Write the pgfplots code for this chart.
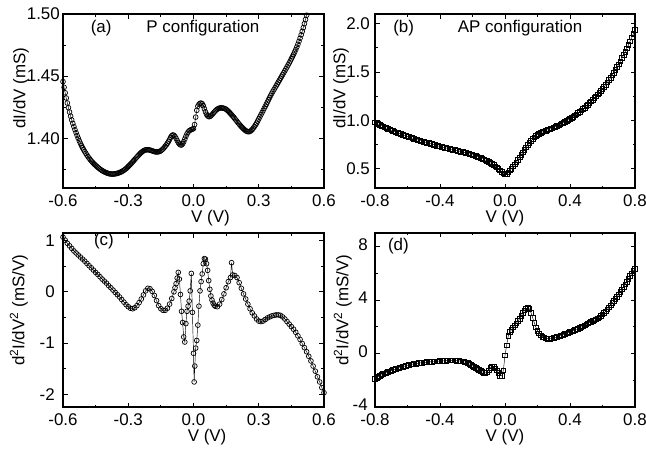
\documentclass[border=0pt]{standalone}
\usepackage{fontspec}
\setmainfont{Liberation Sans}
\usepackage{pgfplots}
\pgfplotsset{compat=1.18}
\tikzset{tag/.style={font=\fontsize{17}{20}\selectfont, inner sep=0pt}}
\pgfplotsset{
  panel/.style={
    scale only axis, width=261bp, height=174bp, anchor=south west,
    axis line style={line width=1.1bp},
    tick align=inside,
    major tick length=4.5bp, minor tick length=2.5bp,
    every tick/.style={black, line width=0.8bp},
    tick label style={font=\fontsize{17}{20}\selectfont, inner sep=0pt},
    xticklabel style={yshift=-6.5bp},
    yticklabel style={xshift=-5bp},
    clip=true,
  },
  xl/.style={every axis x label/.style={at={(axis description cs:#1,0)}, anchor=north, yshift=-22.5bp, inner sep=0pt, font=\fontsize{17}{20}\selectfont}},
  yl/.style 2 args={every axis y label/.style={at={(axis description cs:#1,#2)}, rotate=90, anchor=south, inner sep=0pt, font=\fontsize{17}{20}\selectfont}},
  ptsc/.style={black, line width=0.45bp, mark=o, mark size=2.4bp, mark options={line width=0.7bp}},
  ptss/.style={black, line width=0.45bp, mark=square, mark size=2.3bp, mark options={line width=0.7bp}},
}
\begin{document}
\begin{tikzpicture}
\useasboundingbox (0,0) rectangle (646bp,-450bp);
% ---------------- (a)
\begin{axis}[panel, at={(63bp,-188bp)},
  xmin=-0.6, xmax=0.6, ymin=1.36, ymax=1.50,
  xtick={-0.6,-0.3,0,0.3,0.6}, xticklabels={-0.6,-0.3,0.0,0.3,0.6},
  minor xtick={-0.45,-0.15,0.15,0.45},
  ytick={1.40,1.45,1.50}, yticklabels={1.40,1.45,1.50},
  minor ytick={1.375,1.425,1.475},
  yticklabel style={xshift=2bp},
  xlabel={V (V)}, ylabel={dI/dV (mS)},
  xl=0.565, yl={-0.13}{0.575},
]
\addplot[ptsc] coordinates {
(-0.600,1.4456)(-0.595,1.4410)(-0.590,1.4366)(-0.585,1.4324)(-0.580,1.4284)(-0.575,1.4246)(-0.570,1.4211)(-0.565,1.4178)(-0.560,1.4148)(-0.555,1.4120)(-0.550,1.4094)(-0.545,1.4069)(-0.540,1.4045)(-0.535,1.4022)(-0.530,1.4000)(-0.525,1.3979)(-0.520,1.3959)(-0.515,1.3941)(-0.510,1.3924)(-0.505,1.3908)(-0.500,1.3893)(-0.495,1.3879)(-0.490,1.3865)(-0.485,1.3852)(-0.480,1.3840)(-0.475,1.3829)(-0.470,1.3818)(-0.465,1.3808)(-0.460,1.3799)(-0.455,1.3790)(-0.450,1.3782)(-0.445,1.3774)(-0.440,1.3766)(-0.435,1.3759)(-0.430,1.3752)(-0.425,1.3746)(-0.420,1.3740)(-0.415,1.3735)(-0.410,1.3730)(-0.405,1.3726)(-0.400,1.3722)(-0.395,1.3719)(-0.390,1.3716)(-0.385,1.3714)(-0.380,1.3713)(-0.375,1.3712)(-0.370,1.3712)(-0.365,1.3713)(-0.360,1.3714)(-0.355,1.3716)(-0.350,1.3718)(-0.345,1.3721)(-0.340,1.3724)(-0.335,1.3728)(-0.330,1.3732)(-0.325,1.3737)(-0.320,1.3743)(-0.315,1.3749)(-0.310,1.3756)(-0.305,1.3764)(-0.300,1.3773)(-0.295,1.3782)(-0.290,1.3791)(-0.285,1.3800)(-0.280,1.3810)(-0.275,1.3820)(-0.270,1.3830)(-0.265,1.3840)(-0.260,1.3850)(-0.255,1.3860)(-0.250,1.3869)(-0.245,1.3878)(-0.240,1.3886)(-0.235,1.3893)(-0.230,1.3899)(-0.225,1.3904)(-0.220,1.3907)(-0.215,1.3908)(-0.210,1.3908)(-0.205,1.3907)(-0.200,1.3905)(-0.195,1.3902)(-0.190,1.3899)(-0.185,1.3896)(-0.180,1.3893)(-0.175,1.3891)(-0.170,1.3890)(-0.165,1.3890)(-0.160,1.3892)(-0.155,1.3895)(-0.150,1.3900)(-0.145,1.3907)(-0.140,1.3915)(-0.135,1.3925)(-0.130,1.3936)(-0.125,1.3947)(-0.120,1.3960)(-0.115,1.3974)(-0.110,1.3990)(-0.105,1.4008)(-0.100,1.4021)(-0.095,1.4027)(-0.090,1.4024)(-0.085,1.4014)(-0.080,1.3999)(-0.075,1.3982)(-0.070,1.3966)(-0.065,1.3954)(-0.060,1.3947)(-0.055,1.3946)(-0.050,1.3955)(-0.045,1.3972)(-0.040,1.3993)(-0.035,1.4015)(-0.030,1.4035)(-0.025,1.4050)(-0.020,1.4060)(-0.015,1.4066)(-0.010,1.4070)(-0.005,1.4073)(0.000,1.4078)(0.005,1.4110)(0.010,1.4170)(0.015,1.4225)(0.020,1.4258)(0.025,1.4274)(0.030,1.4281)(0.035,1.4283)(0.040,1.4278)(0.045,1.4262)(0.050,1.4238)(0.055,1.4213)(0.060,1.4193)(0.065,1.4180)(0.070,1.4174)(0.075,1.4175)(0.080,1.4181)(0.085,1.4190)(0.090,1.4200)(0.095,1.4210)(0.100,1.4220)(0.105,1.4228)(0.110,1.4235)(0.115,1.4240)(0.120,1.4243)(0.125,1.4245)(0.130,1.4245)(0.135,1.4243)(0.140,1.4241)(0.145,1.4238)(0.150,1.4233)(0.155,1.4226)(0.160,1.4218)(0.165,1.4209)(0.170,1.4199)(0.175,1.4189)(0.180,1.4179)(0.185,1.4169)(0.190,1.4158)(0.195,1.4147)(0.200,1.4136)(0.205,1.4125)(0.210,1.4114)(0.215,1.4104)(0.220,1.4094)(0.225,1.4085)(0.230,1.4076)(0.235,1.4068)(0.240,1.4061)(0.245,1.4056)(0.250,1.4053)(0.255,1.4053)(0.260,1.4056)(0.265,1.4062)(0.270,1.4071)(0.275,1.4082)(0.280,1.4094)(0.285,1.4107)(0.290,1.4121)(0.295,1.4138)(0.300,1.4155)(0.305,1.4172)(0.310,1.4189)(0.315,1.4206)(0.320,1.4223)(0.325,1.4240)(0.330,1.4257)(0.335,1.4274)(0.340,1.4292)(0.345,1.4310)(0.350,1.4328)(0.355,1.4345)(0.360,1.4361)(0.365,1.4377)(0.370,1.4392)(0.375,1.4407)(0.380,1.4422)(0.385,1.4437)(0.390,1.4452)(0.395,1.4467)(0.400,1.4482)(0.405,1.4497)(0.410,1.4513)(0.415,1.4528)(0.420,1.4543)(0.425,1.4558)(0.430,1.4574)(0.435,1.4590)(0.440,1.4606)(0.445,1.4623)(0.450,1.4640)(0.455,1.4657)(0.460,1.4675)(0.465,1.4694)(0.470,1.4713)(0.475,1.4734)(0.480,1.4756)(0.485,1.4780)(0.490,1.4805)(0.495,1.4832)(0.500,1.4860)(0.505,1.4890)(0.510,1.4922)(0.515,1.4955)(0.520,1.4990)
};
\node[tag] at (axis description cs:0.146,0.917) {(a)};
\node[tag] at (axis description cs:0.536,0.917) {P configuration};
\end{axis}
% ---------------- (b)
\begin{axis}[panel, at={(375bp,-188bp)}, width=260bp,
  xmin=-0.8, xmax=0.8, ymin=0.3, ymax=2.1,
  xtick={-0.8,-0.4,0,0.4,0.8}, xticklabels={-0.8,-0.4,0.0,0.4,0.8},
  minor xtick={-0.6,-0.2,0.2,0.6},
  ytick={0.5,1.0,1.5,2.0}, yticklabels={0.5,1.0,1.5,2.0},
  minor ytick={0.75,1.25,1.75},
  xlabel={V (V)}, ylabel={dI/dV (mS)},
  xl=0.5, yl={-0.1}{0.575},
]
\addplot[ptss] coordinates {
(-0.80,0.980)(-0.79,0.971)(-0.78,0.962)(-0.77,0.953)(-0.76,0.944)(-0.75,0.936)(-0.74,0.928)(-0.73,0.920)(-0.72,0.912)(-0.71,0.905)(-0.70,0.898)(-0.69,0.891)(-0.68,0.884)(-0.67,0.877)(-0.66,0.870)(-0.65,0.864)(-0.64,0.858)(-0.63,0.852)(-0.62,0.846)(-0.61,0.840)(-0.60,0.834)(-0.59,0.828)(-0.58,0.822)(-0.57,0.816)(-0.56,0.810)(-0.55,0.804)(-0.54,0.799)(-0.53,0.794)(-0.52,0.789)(-0.51,0.784)(-0.50,0.779)(-0.49,0.774)(-0.48,0.769)(-0.47,0.764)(-0.46,0.759)(-0.45,0.754)(-0.44,0.749)(-0.43,0.744)(-0.42,0.739)(-0.41,0.734)(-0.40,0.729)(-0.39,0.725)(-0.38,0.721)(-0.37,0.717)(-0.36,0.713)(-0.35,0.709)(-0.34,0.705)(-0.33,0.701)(-0.32,0.697)(-0.31,0.693)(-0.30,0.689)(-0.29,0.685)(-0.28,0.681)(-0.27,0.677)(-0.26,0.673)(-0.25,0.669)(-0.24,0.664)(-0.23,0.659)(-0.22,0.654)(-0.21,0.649)(-0.20,0.643)(-0.19,0.637)(-0.18,0.631)(-0.17,0.625)(-0.16,0.618)(-0.15,0.611)(-0.14,0.604)(-0.13,0.596)(-0.12,0.588)(-0.11,0.579)(-0.10,0.570)(-0.09,0.560)(-0.08,0.549)(-0.07,0.538)(-0.06,0.526)(-0.05,0.513)(-0.04,0.499)(-0.03,0.484)(-0.02,0.468)(-0.01,0.452)(0.00,0.440)(0.01,0.445)(0.02,0.462)(0.03,0.481)(0.04,0.501)(0.05,0.522)(0.06,0.544)(0.07,0.567)(0.08,0.591)(0.09,0.616)(0.10,0.642)(0.11,0.668)(0.12,0.694)(0.13,0.720)(0.14,0.745)(0.15,0.768)(0.16,0.789)(0.17,0.808)(0.18,0.825)(0.19,0.840)(0.20,0.852)(0.21,0.863)(0.22,0.872)(0.23,0.880)(0.24,0.887)(0.25,0.894)(0.26,0.900)(0.27,0.907)(0.28,0.913)(0.29,0.919)(0.30,0.926)(0.31,0.934)(0.32,0.942)(0.33,0.950)(0.34,0.958)(0.35,0.967)(0.36,0.976)(0.37,0.985)(0.38,0.995)(0.39,1.005)(0.40,1.016)(0.41,1.027)(0.42,1.039)(0.43,1.051)(0.44,1.063)(0.45,1.076)(0.46,1.089)(0.47,1.103)(0.48,1.117)(0.49,1.132)(0.50,1.147)(0.51,1.162)(0.52,1.178)(0.53,1.195)(0.54,1.212)(0.55,1.230)(0.56,1.248)(0.57,1.267)(0.58,1.286)(0.59,1.306)(0.60,1.326)(0.61,1.347)(0.62,1.369)(0.63,1.392)(0.64,1.416)(0.65,1.441)(0.66,1.467)(0.67,1.494)(0.68,1.522)(0.69,1.551)(0.70,1.581)(0.71,1.612)(0.72,1.644)(0.73,1.677)(0.74,1.711)(0.75,1.746)(0.76,1.782)(0.77,1.819)(0.78,1.857)(0.79,1.896)(0.80,1.936)
};
\node[tag] at (axis description cs:0.11,0.917) {(b)};
\node[tag] at (axis description cs:0.558,0.917) {AP configuration};
\end{axis}
% ---------------- (c)
\begin{axis}[panel, at={(63bp,-407bp)},
  xmin=-0.6, xmax=0.6, ymin=-2.25, ymax=1.15,
  xtick={-0.6,-0.3,0,0.3,0.6}, xticklabels={-0.6,-0.3,0.0,0.3,0.6},
  minor xtick={-0.45,-0.15,0.15,0.45},
  ytick={-2,-1,0,1}, yticklabels={-2,-1,0,1},
  minor ytick={-1.5,-0.5,0.5},
  yticklabel style={xshift=-3bp},
  xlabel={V (V)}, ylabel={d\textsuperscript{2}I/dV\textsuperscript{2} (mS/V)},
  xl=0.552, yl={-0.134}{0.555},
]
\addplot[ptsc] coordinates {
(-0.60,1.07)(-0.59,1.01)(-0.58,0.95)(-0.57,0.90)(-0.56,0.85)(-0.55,0.80)(-0.54,0.76)(-0.53,0.72)(-0.52,0.68)(-0.51,0.64)(-0.50,0.60)(-0.49,0.555)(-0.48,0.51)(-0.47,0.47)(-0.46,0.425)(-0.45,0.38)(-0.44,0.34)(-0.43,0.295)(-0.42,0.25)(-0.41,0.21)(-0.40,0.17)(-0.39,0.12)(-0.38,0.08)(-0.37,0.035)(-0.36,-0.01)(-0.35,-0.055)(-0.34,-0.10)(-0.33,-0.15)(-0.32,-0.20)(-0.31,-0.25)(-0.30,-0.29)(-0.29,-0.32)(-0.28,-0.33)(-0.27,-0.31)(-0.26,-0.27)(-0.25,-0.21)(-0.24,-0.14)(-0.23,-0.06)(-0.22,0.02)(-0.21,0.07)(-0.20,0.06)(-0.19,0.01)(-0.18,-0.07)(-0.17,-0.17)(-0.16,-0.27)(-0.15,-0.33)(-0.14,-0.36)(-0.13,-0.36)(-0.12,-0.32)(-0.11,-0.24)(-0.10,-0.13)(-0.09,0.0)(-0.085,0.08)(-0.08,0.16)(-0.075,0.27)(-0.07,0.38)(-0.065,0.25)(-0.06,-0.05)(-0.055,-0.38)(-0.05,-0.60)(-0.045,-0.88)(-0.04,-0.98)(-0.035,-0.62)(-0.03,-0.38)(-0.025,-0.28)(-0.02,-0.18)(-0.015,0.02)(-0.01,0.36)(-0.005,-0.40)(0.000,-1.20)(0.003,-1.76)(0.006,-1.45)(0.010,-1.10)(0.015,-0.95)(0.020,-0.65)(0.025,-0.28)(0.030,0.02)(0.035,0.20)(0.040,0.35)(0.045,0.55)(0.050,0.65)(0.055,0.64)(0.060,0.55)(0.065,0.42)(0.070,0.22)(0.075,0.05)(0.080,-0.08)(0.085,-0.16)(0.090,-0.22)(0.095,-0.26)(0.10,-0.28)(0.11,-0.29)(0.12,-0.24)(0.13,-0.15)(0.14,-0.04)(0.15,0.08)(0.16,0.20)(0.17,0.28)(0.175,0.57)(0.18,0.33)(0.19,0.32)(0.20,0.28)(0.21,0.18)(0.22,0.07)(0.23,-0.04)(0.24,-0.14)(0.25,-0.24)(0.26,-0.33)(0.27,-0.41)(0.28,-0.47)(0.29,-0.53)(0.30,-0.57)(0.31,-0.58)(0.32,-0.57)(0.33,-0.54)(0.34,-0.51)(0.35,-0.49)(0.36,-0.47)(0.37,-0.46)(0.38,-0.45)(0.39,-0.45)(0.40,-0.46)(0.41,-0.49)(0.42,-0.53)(0.43,-0.58)(0.44,-0.63)(0.45,-0.68)(0.46,-0.73)(0.47,-0.79)(0.48,-0.86)(0.49,-0.93)(0.50,-1.01)(0.51,-1.09)(0.52,-1.17)(0.53,-1.26)(0.54,-1.35)(0.55,-1.45)(0.56,-1.55)(0.57,-1.66)(0.58,-1.76)(0.59,-1.87)(0.60,-1.97)
};
\node[tag] at (axis description cs:0.157,0.951) {(c)};
\end{axis}
% ---------------- (d)
\begin{axis}[panel, at={(375bp,-407bp)}, width=260bp,
  xmin=-0.8, xmax=0.8, ymin=-4, ymax=9,
  xtick={-0.8,-0.4,0,0.4,0.8}, xticklabels={-0.8,-0.4,0.0,0.4,0.8},
  minor xtick={-0.6,-0.2,0.2,0.6},
  ytick={-4,0,4,8}, yticklabels={-4,0,4,8},
  minor ytick={-2,2,6},
  yticklabel style={xshift=-2bp, yshift=2bp},
  xlabel={V (V)}, ylabel={d\textsuperscript{2}I/dV\textsuperscript{2} (mS/V)},
  xl=0.5, yl={-0.088}{0.557},
]
\addplot[ptss] coordinates {
(-0.80,-1.88)(-0.79,-1.80)(-0.78,-1.73)(-0.77,-1.66)(-0.76,-1.60)(-0.75,-1.54)(-0.74,-1.49)(-0.73,-1.44)(-0.72,-1.39)(-0.71,-1.34)(-0.70,-1.29)(-0.69,-1.24)(-0.68,-1.20)(-0.67,-1.15)(-0.66,-1.11)(-0.65,-1.07)(-0.64,-1.03)(-0.63,-0.99)(-0.62,-0.95)(-0.61,-0.91)(-0.60,-0.88)(-0.59,-0.85)(-0.58,-0.82)(-0.57,-0.80)(-0.56,-0.78)(-0.55,-0.76)(-0.54,-0.74)(-0.53,-0.72)(-0.52,-0.70)(-0.51,-0.68)(-0.50,-0.67)(-0.49,-0.66)(-0.48,-0.64)(-0.47,-0.63)(-0.46,-0.62)(-0.45,-0.61)(-0.44,-0.60)(-0.43,-0.59)(-0.42,-0.58)(-0.41,-0.58)(-0.40,-0.57)(-0.39,-0.56)(-0.38,-0.55)(-0.37,-0.54)(-0.36,-0.53)(-0.35,-0.52)(-0.34,-0.51)(-0.33,-0.51)(-0.32,-0.51)(-0.31,-0.52)(-0.30,-0.53)(-0.29,-0.54)(-0.28,-0.56)(-0.27,-0.58)(-0.26,-0.60)(-0.25,-0.63)(-0.24,-0.67)(-0.23,-0.72)(-0.22,-0.78)(-0.21,-0.85)(-0.20,-0.92)(-0.19,-0.99)(-0.18,-1.07)(-0.17,-1.15)(-0.16,-1.23)(-0.15,-1.31)(-0.14,-1.38)(-0.13,-1.43)(-0.12,-1.45)(-0.11,-1.40)(-0.10,-1.25)(-0.09,-1.08)(-0.08,-0.97)(-0.07,-1.00)(-0.06,-1.10)(-0.05,-1.25)(-0.04,-1.45)(-0.03,-1.65)(-0.02,-1.68)(-0.01,-1.25)(0.00,-0.15)(0.01,0.62)(0.02,1.30)(0.03,1.62)(0.04,1.78)(0.05,1.95)(0.06,2.10)(0.07,2.25)(0.08,2.42)(0.09,2.60)(0.10,2.80)(0.11,3.02)(0.12,3.22)(0.13,3.36)(0.14,3.40)(0.15,3.33)(0.16,3.05)(0.17,2.68)(0.18,2.30)(0.19,1.96)(0.20,1.70)(0.21,1.50)(0.22,1.36)(0.23,1.26)(0.24,1.19)(0.25,1.14)(0.26,1.11)(0.27,1.10)(0.28,1.10)(0.29,1.12)(0.30,1.15)(0.31,1.19)(0.32,1.23)(0.33,1.27)(0.34,1.32)(0.35,1.36)(0.36,1.41)(0.37,1.46)(0.38,1.51)(0.39,1.56)(0.40,1.61)(0.41,1.66)(0.42,1.71)(0.43,1.76)(0.44,1.81)(0.45,1.86)(0.46,1.92)(0.47,1.98)(0.48,2.04)(0.49,2.10)(0.50,2.17)(0.51,2.24)(0.52,2.31)(0.53,2.38)(0.54,2.43)(0.55,2.48)(0.56,2.55)(0.57,2.62)(0.58,2.70)(0.59,2.80)(0.60,2.91)(0.61,3.03)(0.62,3.16)(0.63,3.30)(0.64,3.44)(0.65,3.60)(0.66,3.76)(0.67,3.92)(0.68,4.08)(0.69,4.25)(0.70,4.42)(0.71,4.60)(0.72,4.79)(0.73,4.98)(0.74,5.17)(0.75,5.37)(0.76,5.57)(0.77,5.78)(0.78,5.99)(0.79,6.20)(0.80,6.30)
};
\node[tag] at (axis description cs:0.09,0.925) {(d)};
\end{axis}
\end{tikzpicture}
\end{document}
